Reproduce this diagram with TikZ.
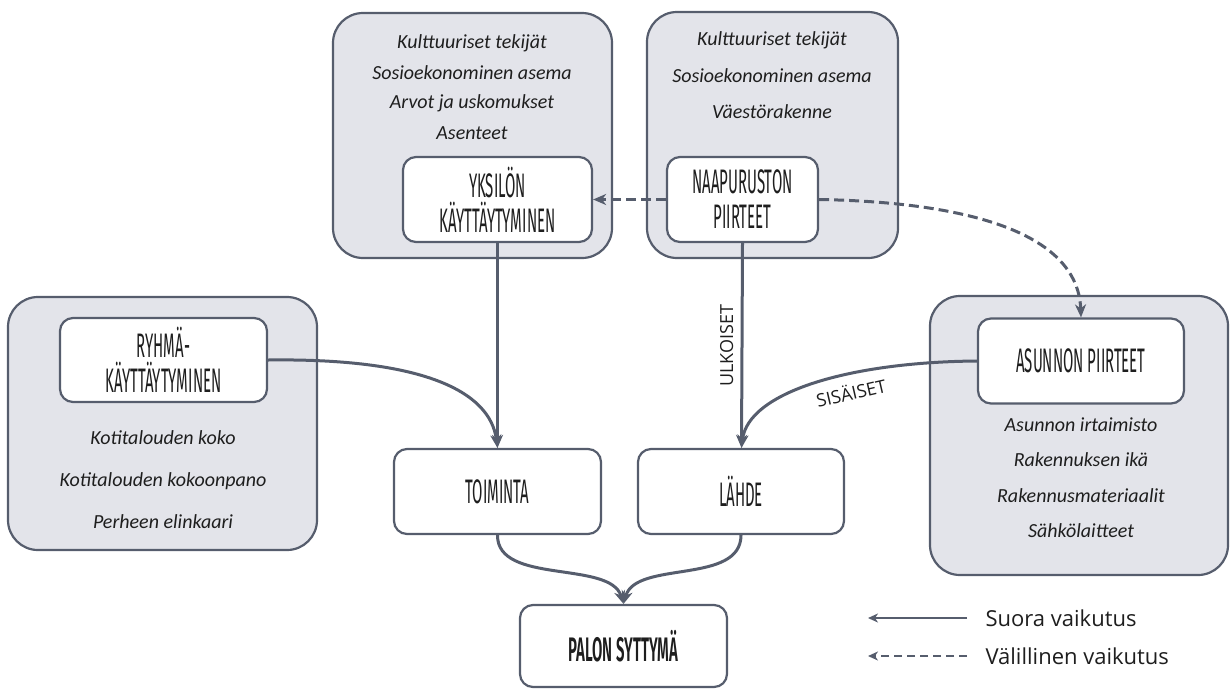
\documentclass[tikz,border=0pt]{standalone}
\usepackage{fontspec}
\setmainfont{Carlito}
\newfontfamily\capfont[FakeStretch=0.44]{Fira Sans}
\newfontfamily\capboldfont[FakeStretch=0.44]{Fira Sans SemiBold}
\newfontfamily\legfont{Open Sans}
\usetikzlibrary{arrows.meta}
\definecolor{lc}{HTML}{565D6D}
\definecolor{gf}{HTML}{E3E4EA}
\definecolor{tc}{HTML}{1E1E1E}
\tikzset{
  graybox/.style={draw=lc, fill=gf, line width=2.2pt, rounded corners=30pt},
  whitebox/.style={draw=lc, fill=white, line width=2.2pt, rounded corners=13pt, align=center, text=tc, font=\capfont\fontsize{34}{36}\selectfont},
  itxt/.style={text=tc, font=\itshape\fontsize{20}{21}\selectfont},
  arr/.style={draw=lc, line width=3pt, -{Stealth[length=13pt,width=11pt,inset=4pt]}},
  darr/.style={arr, dash pattern=on 10pt off 5pt},
  lbl/.style={text=tc, font=\legfont\fontsize{18}{19}\selectfont}
}
\begin{document}
\begin{tikzpicture}[x=1pt,y=-1pt]
\useasboundingbox (0,0) rectangle (1231,689);
% gray containers
\node[graybox, minimum width=279pt, minimum height=245pt] (g1) at (472.5,135.5) {};
\node[graybox, minimum width=251pt, minimum height=246pt] (g2) at (772.5,135) {};
\node[graybox, minimum width=309pt, minimum height=253pt] (g3) at (162.5,423.5) {};
\node[graybox, minimum width=298pt, minimum height=279pt] (g4) at (1079,435.5) {};
% italic lists
\node[itxt] (t11) at (472,43) {Kulttuuriset tekijät};
\node[itxt] (t12) at (472,73) {Sosioekonominen asema};
\node[itxt] (t13) at (472,103) {Arvot ja uskomukset};
\node[itxt] (t14) at (472,133) {Asenteet};
\node[itxt] (t21) at (772,40) {Kulttuuriset tekijät};
\node[itxt] (t22) at (772,76) {Sosioekonominen asema};
\node[itxt] (t23) at (772,112) {Väestörakenne};
\node[itxt] (t31) at (163,438) {Kotitalouden koko};
\node[itxt] (t32) at (163,481) {Kotitalouden kokoonpano};
\node[itxt] (t33) at (163,522) {Perheen elinkaari};
\node[itxt] (t41) at (1081,425) {Asunnon irtaimisto};
\node[itxt] (t42) at (1081,460) {Rakennuksen ikä};
\node[itxt] (t43) at (1081,496) {Rakennusmateriaalit};
\node[itxt] (t44) at (1081,531) {Sähkölaitteet};
% white boxes
\node[whitebox, minimum width=189pt, minimum height=85pt] (yks) at (497.5,199.5) {YKSILÖN\\[-1pt]KÄYTTÄYTYMINEN};
\node[whitebox, minimum width=151pt, minimum height=85pt] (naa) at (742.5,199.5) {NAAPURUSTON\\[-1pt]PIIRTEET};
\node[whitebox, minimum width=207pt, minimum height=84pt] (ryh) at (163.5,360) {RYHMÄ-\\[-1pt]KÄYTTÄYTYMINEN};
\node[whitebox, minimum width=206pt, minimum height=85pt] (asu) at (1081,361) {ASUNNON PIIRTEET};
\node[whitebox, minimum width=207pt, minimum height=85pt] (toi) at (497.5,491.5) {TOIMINTA};
\node[whitebox, minimum width=206pt, minimum height=85pt] (lah) at (741,491.5) {LÄHDE};
\node[whitebox, minimum width=207pt, minimum height=82pt, font=\capboldfont\fontsize{34}{36}\selectfont] (pal) at (623.5,646) {PALON SYTTYMÄ};
% connectors
\draw[darr] (naa.west) -- (yks.east);
\draw[darr] (naa.east) .. controls (960,202) and (1078,230) .. (asu.north);
\draw[arr] (yks.south) -- (toi.north);
\draw[arr] (ryh.east) .. controls (420,358) and (490,390) .. (toi.north);
\draw[arr] (naa.south) -- node[pos=0.5, left=4pt, rotate=90, anchor=south, lbl] (ulk) {ULKOISET} ([xshift=0.5pt]lah.north);
\draw[arr] (asu.west) .. controls (850,362) and (748,392) .. node[pos=0.38, sloped, below=5pt, lbl] (sis) {SISÄISET} ([xshift=0.5pt]lah.north);
\draw[arr] (toi.south) .. controls (497,585) and (610,560) .. (pal.north);
\draw[arr] (lah.south) .. controls (741,585) and (636,560) .. (pal.north);
% legend
\coordinate (l1a) at (967,618);
\coordinate (l1b) at (868,618);
\coordinate (l2a) at (967,656);
\coordinate (l2b) at (868,656);
\draw[arr, line width=2.6pt, -{Stealth[length=10pt,width=9pt,inset=3pt]}] (l1a) -- (l1b);
\draw[arr, line width=2.6pt, dash pattern=on 8pt off 5pt, -{Stealth[length=10pt,width=9pt,inset=3pt]}] (l2a) -- (l2b);
\node[anchor=west, text=tc, font=\legfont\fontsize{22}{23}\selectfont] (leg1) at (982,618) {Suora vaikutus};
\node[anchor=west, text=tc, font=\legfont\fontsize{22}{23}\selectfont] (leg2) at (982,656) {Välillinen vaikutus};
\end{tikzpicture}
\end{document}
